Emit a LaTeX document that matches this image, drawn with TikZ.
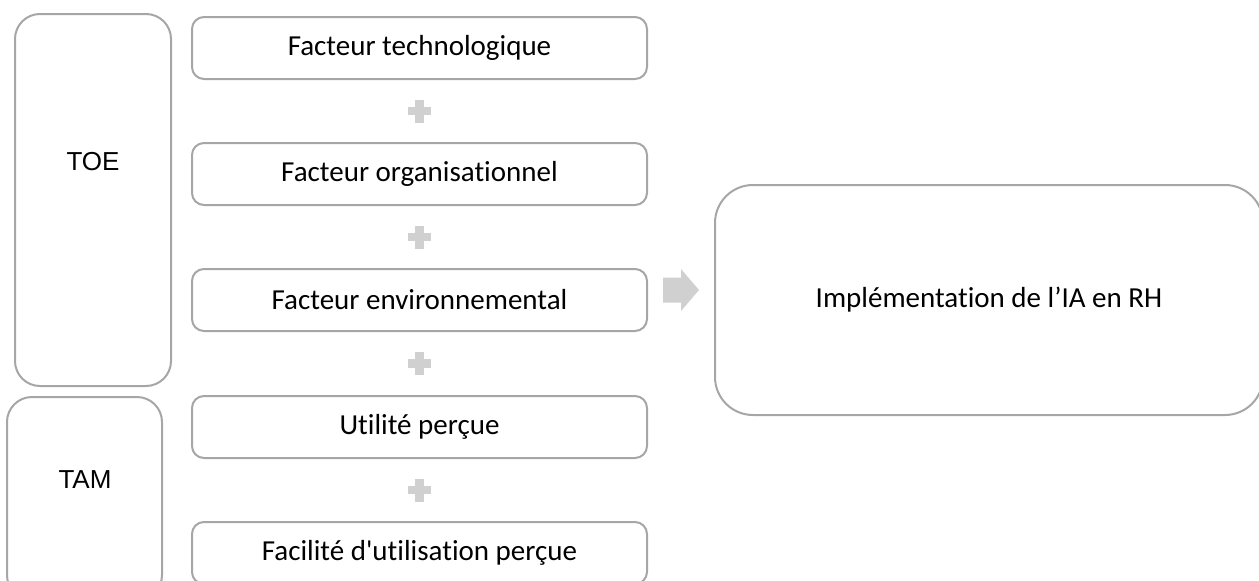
\documentclass[tikz,border=0pt]{standalone}
\usepackage{fontspec}
\setmainfont{Carlito}
\newfontfamily\calib{Carlito}[Ligatures=NoCommon]
\newfontfamily\arialf{Liberation Sans}
\definecolor{boxgray}{HTML}{A6A6A6}
\definecolor{plusgray}{HTML}{D0D0D0}
\begin{document}
\begin{tikzpicture}[x=1pt,y=-1pt,
  frame/.style={draw=boxgray,line width=2pt,rounded corners=25pt,inner sep=0pt},
  factor/.style={draw=boxgray,line width=2pt,rounded corners=12pt,minimum width=455pt,minimum height=62pt,inner sep=0pt,font=\calib\fontsize{29}{34}\selectfont},
  biglabel/.style={font=\arialf\fontsize{26}{30}\selectfont,inner sep=0pt},
  plussign/.pic={\fill[plusgray] (-11.5,-4.25) rectangle (11.5,4.25); \fill[plusgray] (-4.25,-11.5) rectangle (4.25,11.5);}
]
\useasboundingbox (0,0) rectangle (1259,581);
\clip (0,0) rectangle (1259,581);
% group frames
\draw[frame] (15,14) rectangle (171,386);
\node[biglabel] (toe) at (93,162) {TOE};
\draw[frame] (7,397) rectangle (162,600);
\node[biglabel] (tam) at (85,480) {TAM};
% factors
\node[factor] (f1) at (419.5,48) {Facteur technologique};
\node[factor] (f2) at (419.5,174) {Facteur organisationnel};
\node[factor] (f3) at (419.5,300) {Facteur environnemental};
\node[factor] (f4) at (419.5,427) {Utilité perçue};
\node[factor] (f5) at (419.5,553) {Facilité d'utilisation perçue};
% plus signs
\path (f1.south) -- (f2.north) pic[pos=0.5] {plussign};
\path (f2.south) -- (f3.north) pic[pos=0.5] {plussign};
\path (f3.south) -- (f4.north) pic[pos=0.5] {plussign};
\path (f4.south) -- (f5.north) pic[pos=0.5] {plussign};
% result
\node[draw=boxgray,line width=2pt,rounded corners=38pt,minimum width=548pt,minimum height=230pt,inner sep=0pt,font=\calib\fontsize{29}{34}\selectfont] (res) at (989,300) {Implémentation de l’IA en RH};
% arrow
\coordinate (a) at (663,290);
\fill[plusgray] (a) ++(0,-12.5) -- ++(18,0) -- ++(0,-8.5) -- ++(18,21) -- ++(-18,21) -- ++(0,-8.5) -- ++(-18,0) -- cycle;
\end{tikzpicture}
\end{document}
